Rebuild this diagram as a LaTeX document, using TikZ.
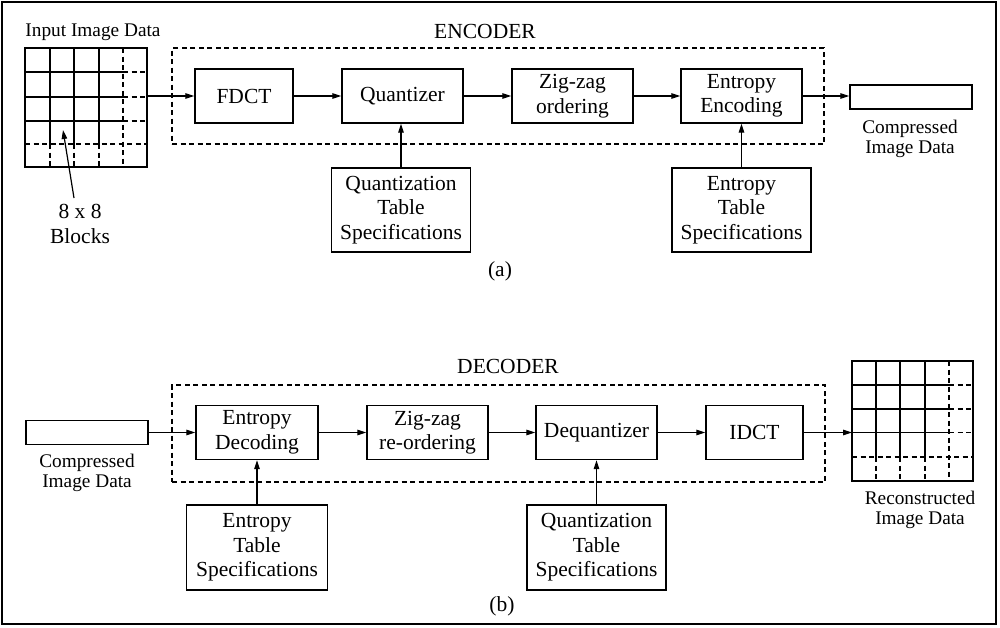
\documentclass[tikz,border=0pt]{standalone}
\usepackage{fontspec}
\setmainfont{Liberation Serif}
\usetikzlibrary{arrows.meta}
\newcommand\fsz{\fontsize{21.5}{24.5}\selectfont}
\newcommand\flz{\fontsize{19.3}{20.5}\selectfont}
\tikzset{
  box/.style={draw, line width=1.3pt, align=center, font=\fsz, inner sep=0pt},
  lbl/.style={align=center, font=\flz, inner sep=0pt},
  bigl/.style={align=center, font=\fsz, inner sep=0pt},
  arr/.style={-{Triangle[length=9pt,width=5.5pt]}, line width=1.2pt},
  dsh/.style={dash pattern=on 5pt off 3.5pt, line width=1.1pt},
  gridl/.style={line width=1.3pt},
  container/.style={draw, dsh, inner sep=0pt},
}
\begin{document}
\begin{tikzpicture}[x=1pt,y=-1pt]
\useasboundingbox (0,0) rectangle (1000,627);
\draw[line width=2pt] (2,2) rectangle (996,624);

% ---------------- ENCODER ----------------
\node[bigl] (enctitle) at (485,31) {ENCODER};
\node[container, minimum width=652pt, minimum height=96pt] (enc) at (498,96) {};
\node[lbl] (inlbl) at (93,32) {Input Image Data};

% input grid
\draw[gridl] (25,48) rectangle (147,167);
\foreach \x in {50,74,99} {
  \draw[gridl] (\x,48) -- (\x,144);
  \draw[gridl,dsh] (\x,144) -- (\x,167);
}
\foreach \y in {72,97,121} {
  \draw[gridl] (25,\y) -- (123,\y);
  \draw[gridl,dsh] (123,\y) -- (147,\y);
}
\draw[gridl,dsh] (123,48) -- (123,167);
\draw[gridl,dsh] (25,144) -- (147,144);
\coordinate (g1out) at (147,96);

\node[box, minimum width=98pt, minimum height=54pt] (fdct) at (244,96) {FDCT};
\node[box, minimum width=121pt, minimum height=54pt] (quant) at (402.5,96) {Quantizer};
\node[box, minimum width=121pt, minimum height=54pt] (zz) at (572.5,96) {Zig-zag\\ordering};
\node[box, minimum width=121pt, minimum height=54pt] (ee) at (741.5,96) {Entropy\\Encoding};
\node[draw, line width=1.3pt, minimum width=122pt, minimum height=24pt, inner sep=0pt] (comp1) at (911,97) {};
\node[lbl] (comp1lbl) at (910,139) {Compressed\\Image Data};

\node[box, minimum width=139pt, minimum height=84pt] (qspec1) at (401,210) {Quantization\\Table\\Specifications};
\node[box, minimum width=139pt, minimum height=84pt] (espec1) at (741.5,210) {Entropy\\Table\\Specifications};

\node[bigl] (blk) at (80,224) {8 x 8\\Blocks};
\coordinate (ptrfoot) at (74,198);
\coordinate (ptrtip) at (63,130);
\node[bigl] (capa) at (500,271) {(a)};

\draw[arr] (g1out) -- (g1out -| fdct.west);
\draw[arr] (fdct.east) -- (quant.west);
\draw[arr] (quant.east) -- (zz.west);
\draw[arr] (zz.east) -- (ee.west);
\draw[arr] (ee.east) -- (ee.east -| comp1.west);
\draw[arr] (qspec1.north) -- (qspec1.north |- quant.south);
\draw[arr] (espec1.north) -- (espec1.north |- ee.south);
\draw[arr] (ptrfoot) -- (ptrtip);

% ---------------- DECODER ----------------
\node[bigl] (dectitle) at (508,366) {DECODER};
\node[container, minimum width=653pt, minimum height=97pt] (dec) at (498.5,433.5) {};

\node[draw, line width=1.3pt, minimum width=122pt, minimum height=24pt, inner sep=0pt] (comp2) at (87,432.5) {};
\node[lbl] (comp2lbl) at (87,473) {Compressed\\Image Data};

\node[box, minimum width=122pt, minimum height=54pt] (ed) at (257,432.5) {Entropy\\Decoding};
\node[box, minimum width=121pt, minimum height=54pt] (zzr) at (427.5,432.5) {Zig-zag\\re-ordering};
\node[box, minimum width=121pt, minimum height=54pt] (dq) at (596.5,432.5) {Dequantizer};
\node[box, minimum width=97pt, minimum height=54pt] (idct) at (754.5,432.5) {IDCT};

% reconstructed grid
\draw[gridl] (852,361) rectangle (973,481);
\foreach \x in {876,900,925} {
  \draw[gridl] (\x,361) -- (\x,457);
  \draw[gridl,dsh] (\x,457) -- (\x,481);
}
\foreach \y in {385,409,432.5} {
  \draw[gridl] (852,\y) -- (949,\y);
  \draw[gridl,dsh] (949,\y) -- (973,\y);
}
\draw[gridl,dsh] (949,361) -- (949,481);
\draw[gridl,dsh] (852,457) -- (973,457);
\coordinate (g2in) at (852,432.5);
\node[lbl] (reclbl) at (920,510) {Reconstructed\\Image Data};

\node[box, minimum width=141pt, minimum height=85pt] (espec2) at (257,547.5) {Entropy\\Table\\Specifications};
\node[box, minimum width=139pt, minimum height=85pt] (qspec2) at (596.5,547.5) {Quantization\\Table\\Specifications};
\node[bigl] (capb) at (502,606) {(b)};

\draw[arr] (comp2.east) -- (comp2.east -| ed.west);
\draw[arr] (ed.east) -- (zzr.west);
\draw[arr] (zzr.east) -- (dq.west);
\draw[arr] (dq.east) -- (idct.west);
\draw[arr] (idct.east) -- (g2in);
\draw[arr] (espec2.north) -- (espec2.north |- ed.south);
\draw[arr] (qspec2.north) -- (qspec2.north |- dq.south);
\end{tikzpicture}
\end{document}
